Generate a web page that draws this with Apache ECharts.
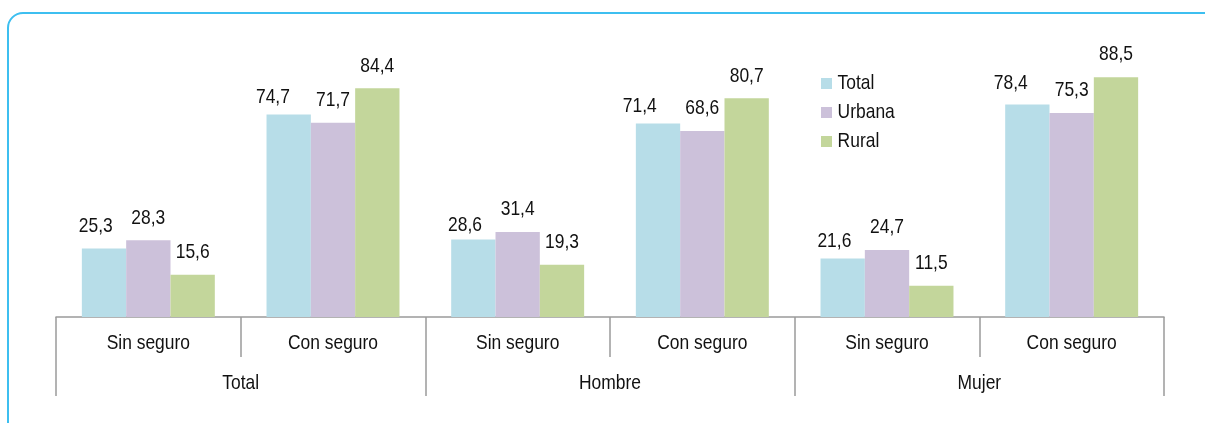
<!DOCTYPE html>
<html>
<head>
<meta charset="utf-8">
<title>Seguro de salud por sexo y área</title>
<script src="https://cdn.jsdelivr.net/npm/echarts@6/dist/echarts.min.js"></script>
<style>
  html, body { margin: 0; padding: 0; background: #ffffff; }
  #chart { width: 1205px; height: 423px; }
</style>
</head>
<body>
<div id="chart"></div>
<script>
// Sub-categories (lower axis row) and groups (upper axis row)
const subCategories = ['Sin seguro', 'Con seguro', 'Sin seguro', 'Con seguro', 'Sin seguro', 'Con seguro'];
const groups = ['Total', 'Hombre', 'Mujer'];

// Percentages per area
const seriesNames = ['Total', 'Urbana', 'Rural'];
const totalValues = [25.3, 74.7, 28.6, 71.4, 21.6, 78.4];
const urbanaValues = [28.3, 71.7, 31.4, 68.6, 24.7, 75.3];
const ruralValues = [15.6, 84.4, 19.3, 80.7, 11.5, 88.5];

const colors = ['#b7dde8', '#ccc1da', '#c3d69b'];
const FONT = "'Liberation Sans', Arial, sans-serif";
const TEXT_CONDENSE = 0.83; // narrow the glyphs horizontally (no condensed face installed)
const fmt = v => v.toFixed(1).replace('.', ',');

// The "Total" labels sit a little up-left of their bars
const totalLabelShift = [[-10, 0], [-19, 5], [-10, 8], [-22, 5], [-10, 5], [-20, 1]];

function barSeries(name, values, color, shifts) {
  return {
    name: name,
    type: 'bar',
    xAxisIndex: 0,
    barGap: '0%',
    barCategoryGap: '28%',
    itemStyle: { color: color },
    label: {
      show: true,
      position: 'top',
      distance: 12,
      color: '#111',
      fontFamily: FONT,
      fontSize: 21,
      formatter: p => fmt(p.value)
    },
    data: values.map((v, i) => {
      if (!shifts) return v;
      return { value: v, label: { offset: shifts[i] } };
    })
  };
}

const chart = echarts.init(document.getElementById('chart'), null, { renderer: 'canvas' });
const axisGray = '#9a9a9a';

chart.setOption({
  animation: false,
  textStyle: { fontFamily: FONT },
  graphic: [{
    type: 'rect',
    shape: { x: 8, y: 13, width: 1400, height: 600, r: 15 },
    style: { fill: 'none', stroke: '#3dbff0', lineWidth: 2 },
    silent: true,
    z: -10
  }],
  legend: {
    orient: 'vertical',
    left: 816,
    top: 68,
    itemWidth: 11,
    itemHeight: 11,
    itemGap: 8,
    icon: 'rect',
    textStyle: { fontFamily: FONT, fontSize: 21, color: '#111', padding: [0, 0, 0, 4] },
    data: seriesNames
  },
  grid: { left: 56, right: 41, top: 46, bottom: 106, containLabel: false },
  xAxis: [{
    type: 'category',
    data: subCategories,
    position: 'bottom',
    axisLine: { show: true, lineStyle: { color: axisGray, width: 1.5 } },
    axisTick: { show: true, length: 40, interval: 0, lineStyle: { color: axisGray, width: 1.5 } },
    axisLabel: { interval: 0, margin: 16, color: '#111', fontFamily: FONT, fontSize: 21 }
  }, {
    type: 'category',
    data: groups,
    position: 'bottom',
    offset: 0,
    axisLine: { show: false },
    axisTick: { show: true, length: 79, interval: 0, lineStyle: { color: axisGray, width: 1.5 } },
    axisLabel: { interval: 0, margin: 56, color: '#111', fontFamily: FONT, fontSize: 21 }
  }],
  yAxis: {
    type: 'value',
    min: 0,
    max: 100,
    show: false,
    splitLine: { show: false }
  },
  series: [
    barSeries(seriesNames[0], totalValues, colors[0], totalLabelShift),
    barSeries(seriesNames[1], urbanaValues, colors[1], null),
    barSeries(seriesNames[2], ruralValues, colors[2], null)
  ]
});

// Squeeze every rendered text element horizontally around its anchor
(function condenseText(factor) {
  const zr = chart.getZr();
  zr.storage.getRoots().forEach(root => {
    const visit = el => {
      if (el.type === 'text') { el.scaleX = factor; el.markRedraw(); }
      const tc = el.getTextContent && el.getTextContent();
      if (tc) { tc.scaleX = factor; tc.markRedraw(); }
    };
    if (root.traverse) root.traverse(visit); else visit(root);
  });
  zr.refreshImmediately();
})(TEXT_CONDENSE);
</script>
</body>
</html>
